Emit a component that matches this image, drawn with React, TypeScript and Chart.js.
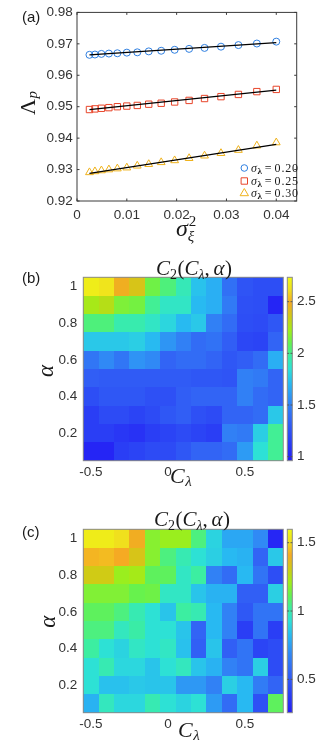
import React, { useEffect, useRef } from 'react';
import { Chart, registerables } from 'chart.js';

Chart.register(...registerables);

const SANS = '"Liberation Sans", Arial, Helvetica, sans-serif';
const SERIF = '"Liberation Serif", "Times New Roman", serif';
const TICK_COLOR = '#333333';
const TEXT_COLOR = '#1a1a1a';

// ---------------- Panel (a) data ----------------
const sigmaXi2 = [0.0025, 0.0036, 0.0049, 0.0064, 0.0081, 0.01, 0.0121, 0.0144, 0.0169, 0.0196, 0.0225, 0.0256, 0.0289, 0.0324, 0.0361, 0.04];
const lambdaP020 = [0.9665, 0.9666, 0.9668, 0.9669, 0.967, 0.9672, 0.9673, 0.9676, 0.9678, 0.9681, 0.9684, 0.9687, 0.9691, 0.9696, 0.9701, 0.9707];
const lambdaP025 = [0.9491, 0.9493, 0.9495, 0.9497, 0.95, 0.9502, 0.9504, 0.9508, 0.9511, 0.9515, 0.952, 0.9526, 0.9532, 0.9539, 0.9548, 0.9555];
const lambdaP030 = [0.9291, 0.9294, 0.9297, 0.93, 0.9303, 0.9306, 0.9312, 0.9317, 0.9323, 0.9329, 0.9336, 0.9344, 0.9352, 0.9362, 0.9376, 0.9386];
const fitX = [0.0025, 0.04];
const fit020 = [0.9665, 0.9704];
const fit025 = [0.9491, 0.9553];
const fit030 = [0.9288, 0.938];
const legendValues = ['0.20', '0.25', '0.30'];
const xTicksA = [0, 0.01, 0.02, 0.03, 0.04];
const yTicksA = [0.92, 0.93, 0.94, 0.95, 0.96, 0.97, 0.98];

// ---------------- Panels (b), (c) data ----------------
const cLambda = [-0.5, -0.4, -0.3, -0.2, -0.1, 0, 0.1, 0.2, 0.3, 0.4, 0.5, 0.6, 0.7];
const alphaRows = [1.0, 0.9, 0.8, 0.7, 0.6, 0.5, 0.4, 0.3, 0.2, 0.1];

const c2PanelB = [
  [2.68, 2.64, 2.47, 2.38, 2.12, 2.03, 1.92, 1.74, 1.67, 1.41, 1.26, 1.23, 1.23],
  [2.24, 2.28, 2.15, 2.13, 1.99, 1.89, 1.89, 1.71, 1.67, 1.46, 1.24, 1.23, 1.0],
  [2.03, 2.03, 1.94, 1.94, 1.89, 1.81, 1.71, 1.76, 1.49, 1.39, 1.23, 1.21, 1.28],
  [1.76, 1.76, 1.76, 1.78, 1.71, 1.58, 1.49, 1.39, 1.42, 1.32, 1.19, 1.17, 1.35],
  [1.44, 1.53, 1.44, 1.57, 1.53, 1.35, 1.39, 1.39, 1.35, 1.28, 1.32, 1.39, 1.67],
  [1.32, 1.3, 1.3, 1.3, 1.3, 1.3, 1.3, 1.28, 1.28, 1.26, 1.49, 1.46, 1.35],
  [1.23, 1.28, 1.28, 1.28, 1.24, 1.24, 1.32, 1.35, 1.35, 1.35, 1.49, 1.39, 1.35],
  [1.14, 1.21, 1.21, 1.17, 1.21, 1.28, 1.32, 1.24, 1.21, 1.35, 1.35, 1.39, 1.76],
  [1.14, 1.14, 1.1, 1.07, 1.14, 1.17, 1.21, 1.17, 1.14, 1.49, 1.46, 1.78, 1.99],
  [1.0, 1.0, 1.14, 1.17, 1.21, 1.21, 1.28, 1.35, 1.35, 1.39, 1.6, 1.85, 1.99],
];

const c2PanelC = [
  [1.55, 1.55, 1.51, 1.4, 1.17, 1.2, 1.2, 1.06, 0.89, 0.77, 0.77, 0.69, 0.29],
  [1.43, 1.44, 1.41, 1.33, 1.17, 1.06, 0.99, 0.93, 0.88, 0.82, 0.8, 0.55, 0.86],
  [1.31, 1.31, 1.2, 1.22, 1.1, 1.1, 0.96, 1.02, 0.66, 0.58, 0.82, 0.61, 0.46],
  [1.16, 1.16, 1.16, 1.12, 1.13, 0.96, 0.96, 0.85, 0.8, 0.8, 0.53, 0.53, 0.88],
  [1.1, 1.1, 1.06, 0.99, 0.93, 0.85, 1.02, 0.99, 0.82, 0.66, 0.5, 0.61, 0.61],
  [1.06, 1.06, 0.97, 1.01, 0.93, 0.93, 0.85, 0.55, 0.82, 0.66, 0.39, 0.61, 0.39],
  [1.02, 0.93, 0.89, 0.96, 0.93, 0.96, 0.84, 0.53, 0.85, 0.53, 0.61, 0.42, 0.45],
  [0.93, 0.99, 0.9, 0.9, 0.85, 0.93, 0.97, 0.85, 0.8, 0.66, 0.61, 0.88, 0.45],
  [0.93, 0.84, 0.84, 0.86, 0.85, 0.85, 0.73, 0.73, 0.66, 0.88, 0.82, 0.64, 0.55],
  [0.8, 0.97, 0.9, 0.9, 0.99, 0.93, 0.89, 0.93, 0.74, 0.58, 0.82, 0.47, 1.1],
];

const xTicksHeat = [-0.5, 0, 0.5];
const yTicksHeat = [0.2, 0.4, 0.6, 0.8, 1];
const cbTicksB = [1, 1.5, 2, 2.5];
const cbTicksC = [0.5, 1, 1.5];
const cRangeB = [0.961, 2.736];
const cRangeC = [0.256, 1.598];

// ---------------- colormap (parula-like) ----------------
const CMAP: number[][] = [
  [0.0, 36, 30, 245],
  [0.1, 42, 62, 245],
  [0.22, 50, 100, 245],
  [0.33, 48, 140, 245],
  [0.42, 40, 185, 242],
  [0.5, 45, 225, 215],
  [0.57, 60, 238, 160],
  [0.64, 100, 242, 80],
  [0.71, 160, 238, 25],
  [0.78, 205, 205, 20],
  [0.86, 245, 170, 35],
  [0.93, 240, 222, 30],
  [1.0, 238, 250, 20],
];

function cmap(t: number): string {
  const tt = Math.max(0, Math.min(1, t));
  for (let i = 1; i < CMAP.length; i++) {
    if (tt <= CMAP[i][0]) {
      const a = CMAP[i - 1];
      const b = CMAP[i];
      const f = (tt - a[0]) / (b[0] - a[0]);
      const c = [1, 2, 3].map((k) => Math.round(a[k] + (b[k] - a[k]) * f));
      return `rgb(${c[0]},${c[1]},${c[2]})`;
    }
  }
  const l = CMAP[CMAP.length - 1];
  return `rgb(${l[1]},${l[2]},${l[3]})`;
}

// ---------------- helpers ----------------
type Part = { t: string; f: string; dy?: number; dx?: number; ls?: string };

function drawParts(ctx: any, parts: Part[], x: number, y: number, align: string = 'left') {
  ctx.textAlign = 'left';
  ctx.textBaseline = 'alphabetic';
  let total = 0;
  const widths = parts.map((p) => {
    ctx.font = p.f;
    ctx.letterSpacing = p.ls || '0px';
    const w = ctx.measureText(p.t).width + (p.dx || 0);
    total += w;
    return w;
  });
  let cx = align === 'left' ? x : align === 'center' ? x - total / 2 : x - total;
  parts.forEach((p, i) => {
    ctx.font = p.f;
    ctx.letterSpacing = p.ls || '0px';
    ctx.fillText(p.t, cx + (p.dx || 0), y + (p.dy || 0));
    cx += widths[i];
  });
  ctx.letterSpacing = '0px';
}

function scaleCfg(
  ticks: number[],
  fmt: (v: number) => string,
  min: number,
  max: number,
  padding: number,
  size: { width?: number; height?: number },
  extra: any = {}
) {
  return {
    type: 'linear',
    min,
    max,
    grid: { display: false, drawTicks: false },
    border: { display: false },
    ticks: {
      font: { family: SANS, size: 13.5 },
      color: TICK_COLOR,
      padding,
      autoSkip: false,
      maxRotation: 0,
      minRotation: 0,
      callback: (v: any) => fmt(Number(v)),
    },
    afterBuildTicks: (s: any) => {
      s.ticks = ticks.map((value) => ({ value }));
    },
    afterFit: (s: any) => {
      if (size.width !== undefined) s.width = size.width;
      if (size.height !== undefined) s.height = size.height;
    },
    ...extra,
  };
}

const baseOptions = {
  animation: false,
  responsive: false,
  maintainAspectRatio: false,
  events: [],
  plugins: {
    legend: { display: false },
    tooltip: { enabled: false },
    title: { display: false },
  },
};

// ---------------- Panel (a) ----------------
const BLUE = '#2f7fe0';
const RED = '#e8452a';
const YELLOW = '#efb21c';

function makePanelA(): any {
  const pts = (ys: number[]) => sigmaXi2.map((x, i) => ({ x, y: ys[i] }));
  const fit = (ys: number[]) => fitX.map((x, i) => ({ x, y: ys[i] }));
  const fitDs = (ys: number[]) => ({
    data: fit(ys),
    showLine: true,
    borderColor: '#000',
    borderWidth: 1.2,
    pointRadius: 0,
    fill: false,
  });
  const markDs = (ys: number[], style: string, color: string, r: number) => ({
    data: pts(ys),
    showLine: false,
    pointStyle: style,
    pointRadius: r,
    borderColor: color,
    backgroundColor: 'rgba(0,0,0,0)',
    pointBorderWidth: 1,
    borderWidth: 1,
  });

  const plugin = {
    id: 'panelA',
    afterDraw(chart: any) {
      const { ctx, chartArea: ca, scales } = chart;
      ctx.save();
      ctx.strokeStyle = '#3a3a3a';
      ctx.lineWidth = 1;
      ctx.strokeRect(ca.left, ca.top, ca.right - ca.left, ca.bottom - ca.top);
      const tl = 2.5;
      ctx.beginPath();
      xTicksA.forEach((v) => {
        const px = scales.x.getPixelForValue(v);
        ctx.moveTo(px, ca.bottom);
        ctx.lineTo(px, ca.bottom - tl);
        ctx.moveTo(px, ca.top);
        ctx.lineTo(px, ca.top + tl);
      });
      yTicksA.forEach((v) => {
        const py = scales.y.getPixelForValue(v);
        ctx.moveTo(ca.left, py);
        ctx.lineTo(ca.left + tl, py);
        ctx.moveTo(ca.right, py);
        ctx.lineTo(ca.right - tl, py);
      });
      ctx.stroke();

      ctx.fillStyle = TEXT_COLOR;
      ctx.font = `15px ${SANS}`;
      ctx.textAlign = 'left';
      ctx.textBaseline = 'middle';
      ctx.fillText('(a)', 22, 17.5);

      // y label  Λ_p
      ctx.save();
      ctx.translate(35, 103);
      ctx.rotate(-Math.PI / 2);
      drawParts(ctx, [
        { t: 'Λ', f: `22px ${SERIF}` },
        { t: 'p', f: `italic 15px ${SERIF}`, dy: 2, dx: 0.5 },
      ], 0, 0, 'center');
      ctx.restore();

      // x label σ_ξ^2
      ctx.font = `italic 24px ${SERIF}`;
      ctx.textAlign = 'left';
      ctx.textBaseline = 'alphabetic';
      const sx = 176;
      ctx.fillText('σ', sx, 236);
      const sw = ctx.measureText('σ').width;
      ctx.font = `15px ${SERIF}`;
      ctx.fillText('2', sx + sw + 1, 226);
      ctx.font = `italic 15px ${SERIF}`;
      ctx.fillText('ξ', sx + sw, 241);

      // legend
      const rowsY = [168, 181, 192.5];
      const colors = [BLUE, RED, YELLOW];
      const mx = 244.3;
      rowsY.forEach((cy, i) => {
        ctx.strokeStyle = colors[i];
        ctx.lineWidth = 1;
        ctx.beginPath();
        if (i === 0) {
          ctx.arc(mx, cy, 3.3, 0, Math.PI * 2);
        } else if (i === 1) {
          ctx.rect(mx - 3.2, cy - 3.2, 6.4, 6.4);
        } else {
          ctx.moveTo(mx, cy - 4);
          ctx.lineTo(mx - 4.2, cy + 3.2);
          ctx.lineTo(mx + 4.2, cy + 3.2);
          ctx.closePath();
        }
        ctx.stroke();
        ctx.fillStyle = TEXT_COLOR;
        drawParts(ctx, [
          { t: 'σ', f: `italic 12px ${SERIF}` },
          { t: 'λ', f: `bold 9px ${SERIF}`, dy: 2, dx: 0.5 },
          { t: ' = ', f: `12px ${SERIF}` },
          { t: legendValues[i], f: `12px ${SERIF}`, ls: '0.8px' },
        ], 251, cy + 4, 'left');
      });
      ctx.restore();
    },
  };

  return {
    type: 'scatter',
    data: {
      datasets: [
        fitDs(fit020),
        fitDs(fit025),
        fitDs(fit030),
        markDs(lambdaP020, 'circle', BLUE, 3.5),
        markDs(lambdaP025, 'rect', RED, 4.5),
        markDs(lambdaP030, 'triangle', YELLOW, 4.5),
      ],
    },
    options: {
      ...baseOptions,
      layout: { padding: { left: 0, right: 35.3, top: 11.7, bottom: 0 } },
      scales: {
        x: scaleCfg(xTicksA, (v) => (v === 0 ? '0' : v.toFixed(2)), 0, 0.0441, 6, { height: 49 }),
        y: scaleCfg(yTicksA, (v) => v.toFixed(2), 0.92, 0.98, 4.3, { width: 77 }),
      },
    },
    plugins: [plugin],
  };
}

// ---------------- Heatmap panels ----------------
type HeatSpec = {
  rows: number[][];
  range: number[];
  padTop: number;
  padRight: number;
  yWidth: number;
  xHeight: number;
  label: string;
  labelY: number;
  titleX: number;
  titleY: number;
  xlabX: number;
  xlabY: number;
  alphaX: number;
  alphaY: number;
};

const panelBSpec: HeatSpec = {
  rows: c2PanelB, range: cRangeB, padTop: 27.3, padRight: 48.7, yWidth: 83.3, xHeight: 39.3,
  label: '(b)', labelY: 29, titleX: 156, titleY: 24.5, xlabX: 170, xlabY: 233, alphaX: 53.3, alphaY: 121,
};
const panelCSpec: HeatSpec = {
  rows: c2PanelC, range: cRangeC, padTop: 29.3, padRight: 48.7, yWidth: 83.3, xHeight: 36.3,
  label: '(c)', labelY: 32.5, titleX: 154, titleY: 25.5, xlabX: 178, xlabY: 237, alphaX: 55, alphaY: 121.7,
};

function makeHeat(spec: HeatSpec): any {
  const halfX = (cLambda[1] - cLambda[0]) / 2;
  const halfY = Math.abs(alphaRows[0] - alphaRows[1]) / 2;
  const plugin = {
    id: 'heat',
    beforeDatasetsDraw(chart: any) {
      const { ctx, scales } = chart;
      const [cmin, cmax] = spec.range;
      ctx.save();
      spec.rows.forEach((row, i) => {
        row.forEach((v, j) => {
          const x0 = Math.round(scales.x.getPixelForValue(cLambda[j] - halfX));
          const x1 = Math.round(scales.x.getPixelForValue(cLambda[j] + halfX));
          const y0 = Math.round(scales.y.getPixelForValue(alphaRows[i] + halfY));
          const y1 = Math.round(scales.y.getPixelForValue(alphaRows[i] - halfY));
          ctx.fillStyle = cmap((v - cmin) / (cmax - cmin));
          ctx.fillRect(x0, y0, x1 - x0, y1 - y0);
        });
      });
      ctx.restore();
    },
    afterDraw(chart: any) {
      const { ctx, chartArea: ca } = chart;
      ctx.save();
      ctx.strokeStyle = '#8a8a8a';
      ctx.lineWidth = 1;
      ctx.strokeRect(ca.left, ca.top, ca.right - ca.left, ca.bottom - ca.top);

      ctx.fillStyle = TEXT_COLOR;
      ctx.font = `15px ${SANS}`;
      ctx.textAlign = 'left';
      ctx.textBaseline = 'middle';
      ctx.fillText(spec.label, 22, spec.labelY);

      // title C_2(C_λ, α)
      drawParts(ctx, [
        { t: 'C', f: `italic 21px ${SERIF}` },
        { t: '2', f: `14px ${SERIF}`, dy: 4 },
        { t: '(', f: `21px ${SERIF}`, dx: 0.5 },
        { t: 'C', f: `italic 21px ${SERIF}` },
        { t: 'λ', f: `italic 14px ${SERIF}`, dy: 4 },
        { t: ',', f: `21px ${SERIF}` },
        { t: ' ', f: `15px ${SERIF}` },
        { t: 'α', f: `italic 21px ${SERIF}` },
        { t: ')', f: `21px ${SERIF}`, dx: 0.5 },
      ], spec.titleX, spec.titleY, 'left');

      // x label C_λ
      drawParts(ctx, [
        { t: 'C', f: `italic 22px ${SERIF}` },
        { t: 'λ', f: `italic 15px ${SERIF}`, dy: 3, dx: 0.5 },
      ], spec.xlabX, spec.xlabY, 'left');

      // y label α
      ctx.save();
      ctx.translate(spec.alphaX, spec.alphaY);
      ctx.rotate(-Math.PI / 2);
      drawParts(ctx, [{ t: 'α', f: `italic 23px ${SERIF}` }], 0, 0, 'center');
      ctx.restore();
      ctx.restore();
    },
  };

  return {
    type: 'scatter',
    data: { datasets: [{ data: [] }] },
    options: {
      ...baseOptions,
      layout: { padding: { left: 0, right: spec.padRight, top: spec.padTop, bottom: 0 } },
      scales: {
        x: scaleCfg(xTicksHeat, (v) => (v === 0 ? '0' : String(v)), cLambda[0] - halfX, cLambda[cLambda.length - 1] + halfX, 3, { height: spec.xHeight }),
        y: scaleCfg(yTicksHeat, (v) => String(v), alphaRows[alphaRows.length - 1] - halfY, alphaRows[0] + halfY, 6, { width: spec.yWidth }),
      },
    },
    plugins: [plugin],
  };
}

// ---------------- Colorbars ----------------
type CbSpec = { range: number[]; ticks: number[]; padTop: number; padBottom: number };
const cbBSpec: CbSpec = { range: cRangeB, ticks: cbTicksB, padTop: 27.3, padBottom: 39.3 };
const cbCSpec: CbSpec = { range: cRangeC, ticks: cbTicksC, padTop: 29.3, padBottom: 36.3 };

function makeColorbar(spec: CbSpec): any {
  const plugin = {
    id: 'cbar',
    beforeDatasetsDraw(chart: any) {
      const { ctx, chartArea: ca, scales } = chart;
      const [cmin, cmax] = spec.range;
      ctx.save();
      for (let py = Math.floor(ca.top); py < Math.ceil(ca.bottom); py++) {
        const v = scales.y.getValueForPixel(py + 0.5);
        ctx.fillStyle = cmap((v - cmin) / (cmax - cmin));
        const top = Math.max(py, ca.top);
        const bot = Math.min(py + 1, ca.bottom);
        ctx.fillRect(ca.left, top, ca.right - ca.left, bot - top);
      }
      ctx.restore();
    },
    afterDraw(chart: any) {
      const { ctx, chartArea: ca, scales } = chart;
      ctx.save();
      ctx.strokeStyle = '#8a8a8a';
      ctx.lineWidth = 1;
      ctx.strokeRect(ca.left, ca.top, ca.right - ca.left, ca.bottom - ca.top);
      ctx.strokeStyle = '#555';
      ctx.beginPath();
      spec.ticks.forEach((v) => {
        const py = scales.y.getPixelForValue(v);
        ctx.moveTo(ca.right, py);
        ctx.lineTo(ca.right - 1.8, py);
        ctx.moveTo(ca.left, py);
        ctx.lineTo(ca.left + 1.8, py);
      });
      ctx.stroke();
      ctx.restore();
    },
  };
  return {
    type: 'scatter',
    data: { datasets: [{ data: [] }] },
    options: {
      ...baseOptions,
      layout: { padding: { left: 7.3, right: 0, top: spec.padTop, bottom: spec.padBottom } },
      scales: {
        x: { type: 'linear', display: false, min: 0, max: 1 },
        y: scaleCfg(spec.ticks, (v) => String(v), spec.range[0], spec.range[1], 4.7, { width: 39.7 }, { position: 'right' }),
      },
    },
    plugins: [plugin],
  };
}

// ---------------- React ----------------
function ChartCanvas(props: { left: number; top: number; width: number; height: number; make: () => any }) {
  const ref = useRef<HTMLCanvasElement | null>(null);
  useEffect(() => {
    if (!ref.current) return;
    const chart = new Chart(ref.current, props.make());
    return () => chart.destroy();
  }, []);
  return (
    <canvas
      ref={ref}
      width={props.width}
      height={props.height}
      style={{ position: 'absolute', left: props.left, top: props.top, width: props.width, height: props.height }}
    />
  );
}

export default function App() {
  return (
    <div style={{ position: 'absolute', left: 0, top: 0, width: 332, height: 749, background: '#ffffff', overflow: 'hidden' }}>
      <ChartCanvas left={0} top={0} width={332} height={250} make={makePanelA} />
      <ChartCanvas left={0} top={250} width={332} height={250} make={() => makeHeat(panelBSpec)} />
      <ChartCanvas left={280} top={250} width={52} height={250} make={() => makeColorbar(cbBSpec)} />
      <ChartCanvas left={0} top={500} width={332} height={249} make={() => makeHeat(panelCSpec)} />
      <ChartCanvas left={280} top={500} width={52} height={249} make={() => makeColorbar(cbCSpec)} />
    </div>
  );
}
